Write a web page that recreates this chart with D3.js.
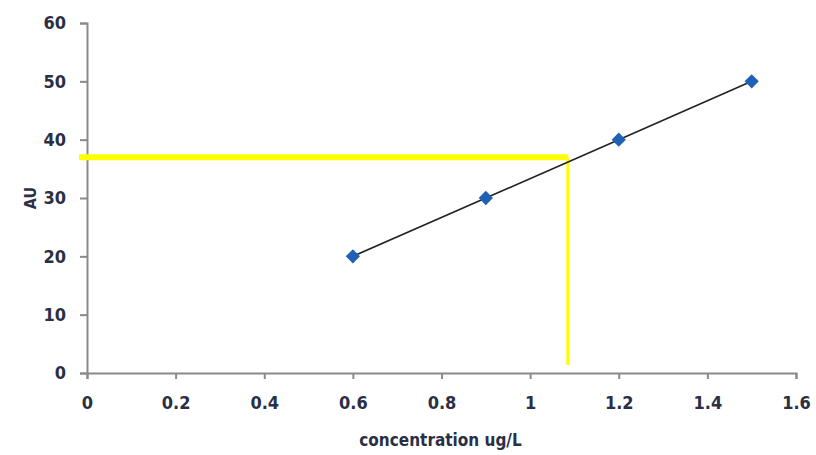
<!DOCTYPE html>
<html lang="en">
<head>
  <meta charset="UTF-8">
  <title>Calibration curve</title>
  <script src="https://cdn.jsdelivr.net/npm/d3@7/dist/d3.min.js"></script>
  <style>
    body { margin: 0; background: #fff; }
    svg text { font-family: "Liberation Sans Narrow", "DejaVu Sans Condensed", sans-serif; font-weight: bold; fill: #2a2f45; }
  </style>
</head>
<body>
  <div id="chart"></div>
  <script>
    // calibration points
    const concentration = [0.6, 0.9, 1.2, 1.5];
    const au = [20, 30, 40, 50];
    const xTicks = [0, 0.2, 0.4, 0.6, 0.8, 1, 1.2, 1.4, 1.6];
    const yTicks = [0, 10, 20, 30, 40, 50, 60];
    // unknown sample read-off
    const sampleAU = 37;
    const sampleConc = 1.085;

    const width = 816, height = 455;
    const margin = { top: 23, right: 20, bottom: 82, left: 87 };

    const svg = d3.select('#chart').append('svg')
      .attr('width', width).attr('height', height);

    const x = d3.scaleLinear().domain([0, 1.6]).range([margin.left, 796]);
    const y = d3.scaleLinear().domain([0, 60]).range([373, margin.top]);

    const xAxis = svg.append('g')
      .attr('transform', `translate(0,${y(0)})`)
      .call(d3.axisBottom(x).tickValues(xTicks).tickSize(6).tickPadding(17)
        .tickFormat(d => String(d)));
    const yAxis = svg.append('g')
      .attr('transform', `translate(${x(0)},0)`)
      .call(d3.axisLeft(y).tickValues(yTicks).tickSize(7).tickPadding(14));

    [xAxis, yAxis].forEach(g => {
      g.select('.domain').attr('stroke', '#8a8a8a').attr('stroke-width', 2);
      g.selectAll('.tick line').attr('stroke', '#8a8a8a').attr('stroke-width', 2);
      g.selectAll('text').attr('font-size', 18);
    });

    // yellow read-off lines
    svg.append('line')
      .attr('x1', x(0) - 8).attr('x2', x(sampleConc))
      .attr('y1', y(sampleAU)).attr('y2', y(sampleAU))
      .attr('stroke', '#ffff00').attr('stroke-width', 6);
    svg.append('line')
      .attr('x1', x(sampleConc)).attr('x2', x(sampleConc))
      .attr('y1', y(sampleAU)).attr('y2', y(1.4))
      .attr('stroke', '#ffff00').attr('stroke-width', 3);

    // trend line
    const pts = concentration.map((c, i) => [c, au[i]]);
    svg.append('path')
      .datum(pts)
      .attr('d', d3.line().x(d => x(d[0])).y(d => y(d[1])))
      .attr('fill', 'none').attr('stroke', '#222').attr('stroke-width', 1.6);

    svg.selectAll('.pt')
      .data(pts)
      .join('path')
      .attr('class', 'pt')
      .attr('transform', d => `translate(${x(d[0])},${y(d[1])})`)
      .attr('d', d3.symbol(d3.symbolDiamond2, 130))
      .attr('fill', '#1f62b5');

    svg.append('text')
      .attr('x', (x(0) + x(1.6)) / 2 - 1).attr('y', 446)
      .attr('text-anchor', 'middle').attr('font-size', 17)
      .text('concentration ug/L');

    svg.append('text')
      .attr('transform', `translate(36,${y(30)}) rotate(-90)`)
      .attr('text-anchor', 'middle').attr('font-size', 16)
      .text('AU');
  </script>
</body>
</html>
